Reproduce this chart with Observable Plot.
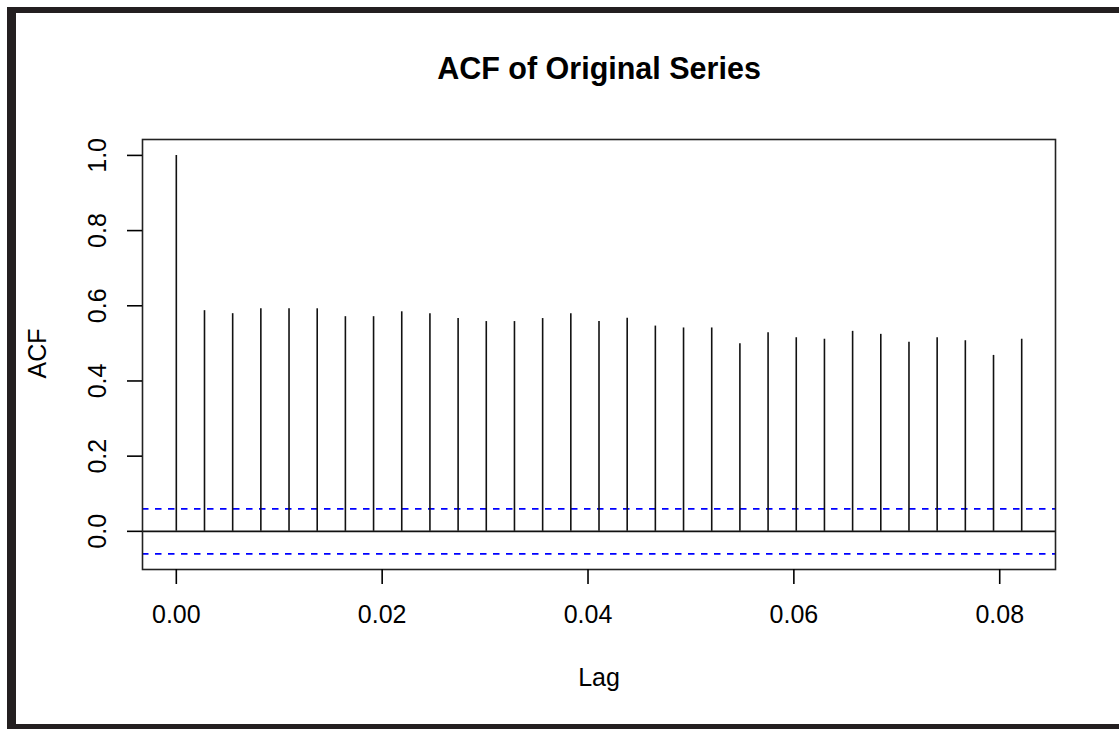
<!DOCTYPE html>
<html><head><meta charset="utf-8">
<script src="https://cdn.jsdelivr.net/npm/d3@7"></script>
<script src="https://cdn.jsdelivr.net/npm/@observablehq/plot@0.6"></script>
<style>
html,body{margin:0;padding:0;background:#fff;}
#wrap{position:relative;width:1119px;height:729px;overflow:hidden;}
#wrap svg{position:absolute;left:0;top:0;}
#border{position:absolute;left:7px;top:7px;right:0;bottom:0;border-left:9px solid #231f20;border-top:6px solid #231f20;border-bottom:5px solid #231f20;box-sizing:border-box;pointer-events:none;}
</style></head><body><div id="wrap"></div>
<script>
const lags = [0, 0.002738, 0.005476, 0.008214, 0.010951, 0.013689, 0.016427, 0.019165, 0.021903, 0.024641,
  0.027379, 0.030116, 0.032854, 0.035592, 0.038330, 0.041068, 0.043806, 0.046543, 0.049281, 0.052019,
  0.054757, 0.057495, 0.060233, 0.062971, 0.065708, 0.068446, 0.071184, 0.073922, 0.076660, 0.079398, 0.082136];
const acfValues = [1.0, 0.587, 0.579, 0.592, 0.592, 0.592, 0.571, 0.571, 0.584, 0.579,
  0.566, 0.558, 0.558, 0.566, 0.579, 0.558, 0.567, 0.546, 0.541, 0.541,
  0.499, 0.528, 0.515, 0.511, 0.532, 0.524, 0.503, 0.515, 0.507, 0.468, 0.511];
const ciBound = 0.06;
const xTicks = [0, 0.02, 0.04, 0.06, 0.08];
const yTicks = [0, 0.2, 0.4, 0.6, 0.8, 1.0];
const titleText = "ACF of Original Series";
const xLabel = "Lag";
const yLabel = "ACF";

const data = lags.map((lag, i) => ({lag, acf: acfValues[i]}));
const font = "'Liberation Sans', Arial, sans-serif";
const lw = 1.6;

const chart = Plot.plot({
  width: 1119, height: 729,
  marginLeft: 142, marginTop: 139, marginRight: 64, marginBottom: 160,
  style: {fontFamily: font, fontSize: "25px", background: "transparent", color: "black"},
  x: {domain: [-0.003285, 0.08542], label: null},
  y: {domain: [-0.1015, 1.0423], label: null},
  marks: [
    Plot.ruleY([ciBound, -ciBound], {stroke: "blue", strokeWidth: 1.7, strokeDasharray: "6.5,6.5"}),
    Plot.ruleY([0], {stroke: "#111", strokeWidth: lw}),
    Plot.ruleX(data, {x: "lag", y1: 0, y2: "acf", stroke: "#111", strokeWidth: lw}),
    Plot.frame({stroke: "#222", strokeWidth: lw}),
    Plot.axisX(xTicks, {anchor: "bottom", tickSize: 15, tickPadding: 21, tickFormat: d3.format(".2f"), label: null, fontSize: 25, strokeWidth: lw}),
    Plot.axisY(yTicks, {anchor: "left", tickSize: 15, tickFormat: () => "", label: null, strokeWidth: lw}),
    Plot.text(yTicks, {y: d => d, frameAnchor: "left", dx: -45, rotate: -90, text: d3.format(".1f"), textAnchor: "middle", lineAnchor: "middle", fontSize: 25}),
    Plot.text([titleText], {frameAnchor: "top", dy: -70, fontWeight: "bold", fontSize: 30.5, lineAnchor: "middle"}),
    Plot.text([xLabel], {frameAnchor: "bottom", dy: 108, fontSize: 25, lineAnchor: "middle"}),
    Plot.text([yLabel], {frameAnchor: "left", dx: -105, dy: 24, rotate: -90, fontSize: 25, lineAnchor: "middle"})
  ]
});
const wrap = document.getElementById("wrap");
wrap.appendChild(chart);
const b = document.createElement("div");
b.id = "border";
wrap.appendChild(b);
</script>
</body></html>
